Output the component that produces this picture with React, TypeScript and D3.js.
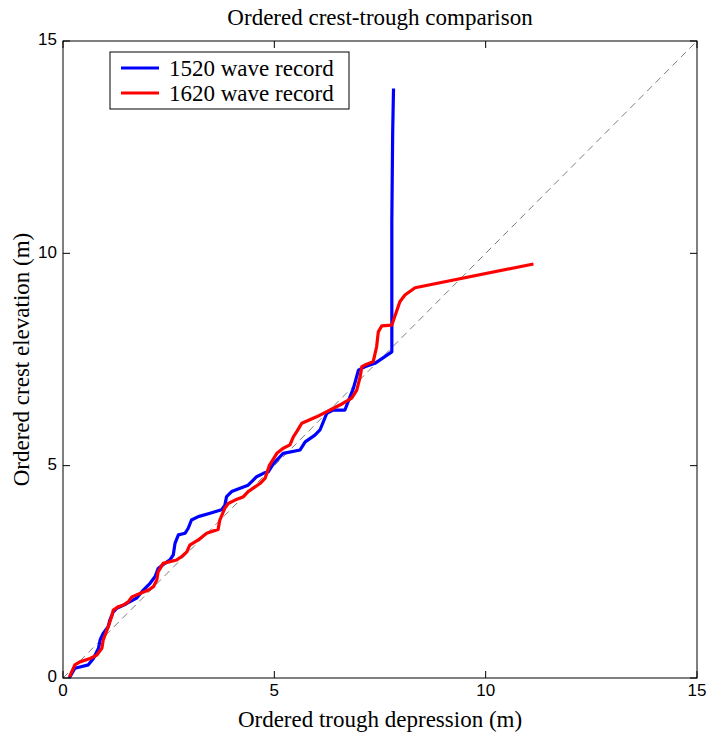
import React from "react";
import * as d3 from "d3";

const ticks = [0, 5, 10, 15];
const tickLabels = ["0", "5", "10", "15"];

const series1520X = [0.15,0.28,0.4,0.6,0.72,0.84,0.88,0.95,1.07,1.11,1.19,1.27,1.5,1.74,1.9,2.06,2.18,2.25,2.41,2.53,2.61,2.65,2.73,2.89,2.96,3.04,3.2,3.48,3.75,3.83,3.87,3.99,4.19,4.38,4.5,4.58,4.74,4.86,4.98,5.21,5.61,5.73,5.96,6.08,6.24,6.39,6.67,6.79,6.87,6.99,7.14,7.38,7.78,7.78,7.8,7.82];
const series1520Y = [0.0,0.23,0.26,0.31,0.46,0.7,0.9,1.05,1.21,1.37,1.56,1.64,1.75,1.88,2.07,2.23,2.39,2.58,2.7,2.78,2.9,3.17,3.37,3.41,3.52,3.72,3.8,3.88,3.96,4.07,4.27,4.39,4.47,4.54,4.66,4.74,4.82,4.86,5.05,5.29,5.37,5.56,5.72,5.84,6.23,6.31,6.31,6.62,6.82,7.25,7.33,7.41,7.68,10.78,12.86,13.88];

const series1620X = [0.15,0.28,0.4,0.64,0.8,0.92,0.95,1.07,1.15,1.19,1.31,1.43,1.55,1.63,1.82,2.02,2.14,2.22,2.25,2.37,2.53,2.69,2.81,2.93,3.0,3.2,3.4,3.67,3.71,3.83,3.91,4.07,4.27,4.38,4.5,4.66,4.78,4.88,5.06,5.21,5.37,5.45,5.53,5.65,6.0,6.32,6.63,6.83,6.95,7.03,7.07,7.14,7.34,7.42,7.46,7.54,7.78,7.97,8.09,8.33,11.13];
const series1620Y = [0.02,0.31,0.38,0.46,0.54,0.7,0.89,1.21,1.44,1.6,1.68,1.72,1.8,1.91,1.99,2.07,2.15,2.31,2.5,2.7,2.74,2.78,2.86,2.97,3.13,3.25,3.41,3.5,3.72,4.0,4.11,4.19,4.27,4.39,4.47,4.58,4.7,5.0,5.29,5.41,5.49,5.68,5.8,6.0,6.15,6.31,6.47,6.59,6.78,7.09,7.33,7.37,7.45,7.8,8.15,8.29,8.31,8.86,9.02,9.19,9.75];

const legendLabels = ["1520 wave record", "1620 wave record"];
const colors = ["#0000ff", "#ff0000"];

export default function App() {
  const W = 718, H = 732;
  const L = 63, R = 697, T = 41, B = 678;
  const x = d3.scaleLinear().domain([0, 15]).range([L, R]);
  const y = d3.scaleLinear().domain([0, 15]).range([B, T]);
  const line = d3.line<[number, number]>().x(d => x(d[0])).y(d => y(d[1]));
  const s1: [number, number][] = series1520X.map((v, i) => [v, series1520Y[i]]);
  const s2: [number, number][] = series1620X.map((v, i) => [v, series1620Y[i]]);
  const tl = 7;
  const serif = "'Liberation Serif', 'Times New Roman', serif";
  const sans = "'Liberation Sans', Arial, sans-serif";
  return (
    <svg width={W} height={H} style={{ position: "absolute", left: 0, top: 0, background: "#fff" }}>
      <rect x={0} y={0} width={W} height={H} fill="#fff" />
      <line x1={x(0)} y1={y(0)} x2={x(15)} y2={y(15)} stroke="#444" strokeWidth={0.7} strokeDasharray="7,5" />
      <path d={line(s1) || ""} fill="none" stroke={colors[0]} strokeWidth={3.2} strokeLinejoin="round" />
      <path d={line(s2) || ""} fill="none" stroke={colors[1]} strokeWidth={3.2} strokeLinejoin="round" />
      <rect x={L} y={T} width={R - L} height={B - T} fill="none" stroke="#000" strokeWidth={1} />
      {ticks.map((t, i) => (
        <g key={i}>
          <line x1={x(t)} x2={x(t)} y1={B} y2={B - tl} stroke="#000" />
          <line x1={x(t)} x2={x(t)} y1={T} y2={T + tl} stroke="#000" />
          <line x1={L} x2={L + tl} y1={y(t)} y2={y(t)} stroke="#000" />
          <line x1={R} x2={R - tl} y1={y(t)} y2={y(t)} stroke="#000" />
          <text x={x(t)} y={B + 14} textAnchor="middle" dominantBaseline="middle" fontFamily={sans} fontSize={17}>{tickLabels[i]}</text>
          <text x={L - 6} y={y(t)} textAnchor="end" dominantBaseline="middle" fontFamily={sans} fontSize={17}>{tickLabels[i]}</text>
        </g>
      ))}
      <text x={(L + R) / 2} y={25} textAnchor="middle" fontFamily={serif} fontSize={23}>Ordered crest-trough comparison</text>
      <text x={(L + R) / 2} y={727} textAnchor="middle" fontFamily={serif} fontSize={23}>Ordered trough depression (m)</text>
      <text transform={`translate(29,${(T + B) / 2}) rotate(-90)`} textAnchor="middle" fontFamily={serif} fontSize={23}>Ordered crest elevation (m)</text>
      <rect x={110} y={52} width={239} height={57} fill="#fff" stroke="#000" strokeWidth={1} />
      {legendLabels.map((lab, i) => (
        <g key={i}>
          <line x1={121} x2={159} y1={68 + i * 25} y2={68 + i * 25} stroke={colors[i]} strokeWidth={3} />
          <text x={169} y={68 + i * 25} dominantBaseline="central" fontFamily={serif} fontSize={23}>{lab}</text>
        </g>
      ))}
    </svg>
  );
}
